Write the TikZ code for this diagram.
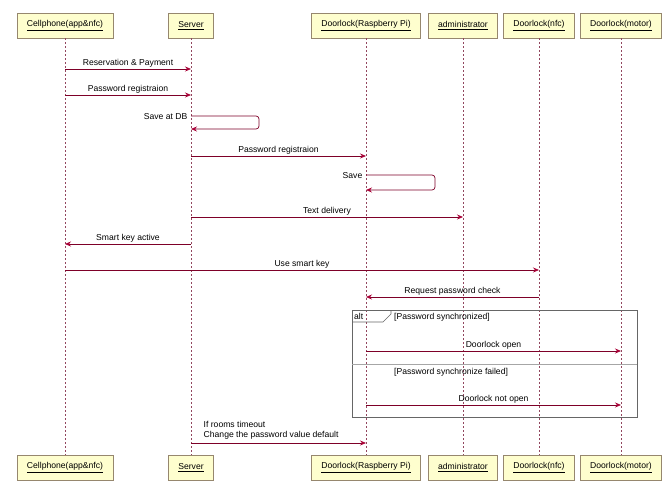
\documentclass[tikz,border=0pt]{standalone}
\usepackage{fontspec}
\setmainfont{Liberation Sans}
\usetikzlibrary{arrows.meta}
\definecolor{umlred}{HTML}{A80036}
\definecolor{umlfill}{HTML}{FEFECE}
\definecolor{umlbox}{RGB}{150,135,110}

\begin{document}
\begin{tikzpicture}[x=1pt,y=-1pt,font=\fontsize{8.6}{10}\selectfont]
\useasboundingbox (0,0) rectangle (670,482);
\begin{scope}[every node/.style={draw=umlbox,fill=umlfill,thick,minimum height=25,inner xsep=10}]
	\node (c0) at (65,25.5) {\underline{Cellphone(app\&nfc)}};
	\node (s0) at (191,25.5) {\underline{Server}};
	\node (r0) at (366,25.5) {\underline{Doorlock(Raspberry Pi)}};
	\node (a0) at (463,25.5) {\underline{administrator}};
	\node (n0) at (539,25.5) {\underline{Doorlock(nfc)}};
	\node (m0) at (621,25.5) {\underline{Doorlock(motor)}};
	\node (c1) at (65,467.5) {\underline{Cellphone(app\&nfc)}};
	\node (s1) at (191,467.5) {\underline{Server}};
	\node (r1) at (366,467.5) {\underline{Doorlock(Raspberry Pi)}};
	\node (a1) at (463,467.5) {\underline{administrator}};
	\node (n1) at (539,467.5) {\underline{Doorlock(nfc)}};
	\node (m1) at (621,467.5) {\underline{Doorlock(motor)}};
\end{scope}
% lifelines
\begin{scope}[umlred!45!gray, dash pattern=on 2pt off 2pt, line width=0.5]
	\draw (c0) -- (c1);
	\draw (s0) -- (s1);
	\draw (r0) -- (r1);
	\draw (a0) -- (a1);
	\draw (n0) -- (n1);
	\draw (m0) -- (m1);
\end{scope}
% alt frame
\draw[gray!80!black, line width=0.6] (352,310) rectangle (637,417);
\draw[gray!80!black, line width=0.6] (352,322) -- (383,322) -- (391,314) -- (391,310);
\node[anchor=west, inner sep=1] (alt) at (353,316) {alt};
\node[anchor=west, inner sep=1] (g1) at (393,317) {[Password synchronized]};
\draw[gray!70, line width=0.6] (352,364) -- (637,364);
\node[anchor=west, inner sep=1] (g2) at (393,372) {[Password synchronize failed]};
\begin{scope}[>={Stealth[umlred,length=6pt,width=5pt]}, every edge/.style={draw=umlred!75!black,line width=0.7},
	every node/.style={above,inner sep=1.5}]
	\path [->] (c0 |- 0,69) edge node {Reservation \& Payment} (s0 |- 0,69);
	\path [->] (c0 |- 0,95) edge node {Password registraion} (s0 |- 0,95);
	\path [->] (s0 |- 0,156) edge node {Password registraion} (r0 |- 0,156);
	\path [->] (s0 |- 0,217) edge node {Text delivery} (a0 |- 0,217);
	\path [->] (s0 |- 0,244) edge node {Smart key active} (c0 |- 0,244);
	\path [->] (c0 |- 0,270) edge node {Use smart key} (n0 |- 0,270);
	\path [->] (n0 |- 0,297) edge node {Request password check} (r0 |- 0,297);
	\path [->] (r0 |- 0,351) edge node {Doorlock open} (m0 |- 0,351);
	\path [->] (r0 |- 0,405) edge node {Doorlock not open} (m0 |- 0,405);
	\path [->] (s0 |- 0,443) edge (r0 |- 0,443);
	\draw [->, draw=umlred!75!black, line width=0.7, rounded corners=3] (s0 |- 0,116) -- (259,116) -- (259,129) -- (s0 |- 0,129);
	\draw [->, draw=umlred!75!black, line width=0.7, rounded corners=3] (r0 |- 0,175) -- (435,175) -- (435,190) -- (r0 |- 0,190);
\end{scope}
\node[anchor=east, inner sep=1.5] (db) at (189,117) {Save at DB};
\node[anchor=east, inner sep=1.5] (sv) at (364,176) {Save};
\node[anchor=south west, align=left, inner sep=1.5, font=\fontsize{8.6}{10.5}\selectfont] (tm) at (202,441) {If rooms timeout\\Change the password value default};
\end{tikzpicture}
\end{document}
